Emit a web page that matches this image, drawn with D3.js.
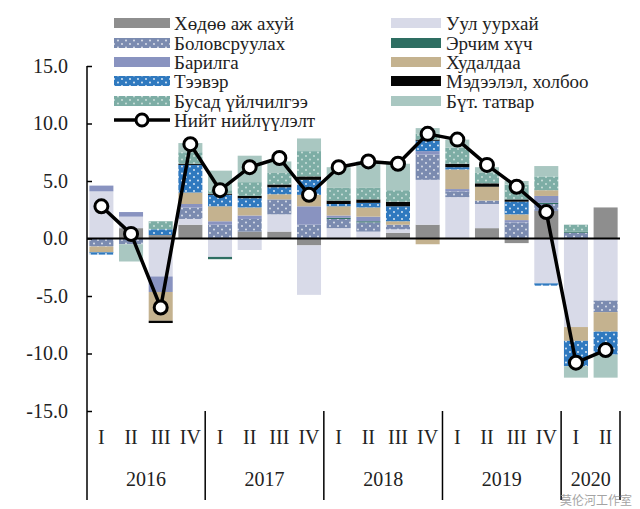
<!DOCTYPE html>
<html><head><meta charset="utf-8">
<script src="https://cdn.jsdelivr.net/npm/d3@7/dist/d3.min.js"></script>
<style>html,body{margin:0;padding:0;background:#fff;}svg{display:block;}</style>
</head><body><svg id="c" width="640" height="509"></svg>
<script>
const quarters = ["I","II","III","IV","I","II","III","IV","I","II","III","IV","I","II","III","IV","I","II"];
const years = ["2016","2017","2018","2019","2020"];
const yearSpan = [4,4,4,4,2];
const yTicks = [-15,-10,-5,0,5,10,15];

const agriculture  = [0, 0.9, 0.3, 1.2, 0, 0.6, 0.6, -0.6, 0, 0, 0.5, 1.2, 0, 0.9, -0.4, 2.4, 0, 2.7];
const mining       = [4.1, 1.0, -3.3, 0.5, -1.6, -1.0, 1.5, -4.3, 0.9, 0.6, 0.3, 3.9, 3.6, 2.1, 0, -3.9, -7.7, -5.4];
const manufacturing= [-0.7, -0.5, 0, 1.0, 1.2, 1.1, 1.3, 1.2, 0.8, 0.8, 0.4, 2.2, 0.5, 0.3, 1.4, 0.6, 0.5, -1.0];
const energy       = [0, 0, 0, 0, -0.2, 0, 0, 0, 0.1, 0.1, 0, 0, 0, 0, 0, 0.1, 0.1, 0];
const construction = [0.5, 0.4, -1.35, 0.3, 0.3, 0.3, 0, 1.6, 0.2, 0.4, 0, 0.3, 0.2, 0, 0.2, 0.6, 0, 0];
const trade        = [-0.5, 0, -2.5, 1.0, 1.3, 0.7, 0.45, 1.0, 0.8, 0.8, 0.3, -0.5, 1.7, 1.2, 0.5, 0.5, -1.2, -1.7];
const transport    = [-0.2, 0, 0.5, 2.4, 1.0, 0.8, 0.6, 1.3, 0.2, 0.4, 1.3, 0.9, 0.2, 0, 1.1, -0.2, -2.2, -2.0];
const ict          = [0, 0, -0.2, 0.1, 0.1, 0.2, 0.25, 0.3, 0.3, 0.3, 0.4, 0.1, 0.3, 0.3, 0.2, 0, 0, 0];
const otherServices= [0, 0, 0.7, 1.0, 0.3, 1.2, 1.0, 2.2, 1.1, 1.0, 1.0, 0.5, 1.4, 0.9, 1.3, 1.2, 0.6, 0];
const netTaxes     = [0, -1.5, 0, 0.8, 1.7, 2.3, 1.0, 1.1, 1.8, 2.3, 2.3, 0.5, 0.7, 0.5, 0.3, 0.9, -1.0, -2.0];
const totalSupply  = [2.8, 0.4, -6.0, 8.2, 4.2, 6.2, 7.0, 3.8, 6.2, 6.7, 6.5, 9.1, 8.6, 6.4, 4.5, 2.3, -10.8, -9.7];

const seriesNames = ["Хөдөө аж ахуй","Уул уурхай","Боловсруулах","Эрчим хүч","Барилга","Худалдаа","Тээвэр","Мэдээлэл, холбоо","Бусад үйлчилгээ","Бүт. татвар"];
const seriesValues = [agriculture, mining, manufacturing, energy, construction, trade, transport, ict, otherServices, netTaxes];
const seriesFill = ["#8e8e8e","#d8dae8","url(#pManuf)","#2e6e62","#8993c0","#c4b28f","url(#pTrans)","#050505","url(#pOther)","#a9c7c1"];
const lineName = "Нийт нийлүүлэлт";

const svg = d3.select("#c");
const defs = svg.append("defs");
function dotPattern(id, bg, dot, op){
  const p = defs.append("pattern").attr("id", id).attr("patternUnits","userSpaceOnUse").attr("width",8).attr("height",7);
  p.append("rect").attr("width",8).attr("height",7).attr("fill",bg);
  p.append("circle").attr("cx",2).attr("cy",2).attr("r",0.9).attr("fill",dot).attr("opacity",op);
  p.append("circle").attr("cx",6).attr("cy",5.5).attr("r",0.9).attr("fill",dot).attr("opacity",op);
}
dotPattern("pManuf","#7b8bb0","#ffffff",0.8);
dotPattern("pTrans","#2f79bf","#ffffff",0.9);
dotPattern("pOther","#7dada5","#e8f2ef",0.8);

const n = quarters.length;
const x = d3.scaleBand().domain(d3.range(n)).range([87, 620]).paddingInner(0.19).paddingOuter(0.08);
const y = d3.scaleLinear().domain([-15, 15]).range([411, 66]);

const table = d3.range(n).map(i => {
  const o = {i};
  seriesNames.forEach((k, j) => o[k] = seriesValues[j][i]);
  return o;
});
const stack = d3.stack().keys(seriesNames).offset(d3.stackOffsetDiverging);
const stacked = stack(table);

const bars = svg.append("g");
stacked.forEach((s, j) => {
  bars.append("g").attr("fill", seriesFill[j])
    .selectAll("rect").data(s).join("rect")
    .attr("x", d => x(d.data.i))
    .attr("width", x.bandwidth())
    .attr("y", d => y(Math.max(d[0], d[1])))
    .attr("height", d => Math.abs(y(d[0]) - y(d[1])));
});

// zero line
svg.append("line").attr("x1", 87).attr("x2", 620).attr("y1", y(0)).attr("y2", y(0))
  .attr("stroke", "#000").attr("stroke-width", 2);

// y axis
const yAxis = d3.axisLeft(y).tickValues(yTicks).tickSizeInner(-5).tickSizeOuter(0).tickPadding(19)
  .tickFormat(d => d.toFixed(1));
const ga = svg.append("g").attr("transform", "translate(87,0)").call(yAxis);
ga.select(".domain").remove();
ga.selectAll(".tick line").attr("stroke", "#000").attr("stroke-width", 1.5);
ga.selectAll(".tick text").attr("font-family", "Liberation Serif, Times New Roman, serif")
  .attr("font-size", 20).attr("fill", "#222");
svg.append("line").attr("x1", 87).attr("x2", 87).attr("y1", 66).attr("y2", 500)
  .attr("stroke", "#000").attr("stroke-width", 1.5);

// category axis
const step = x.step(), gap = step - x.bandwidth();
const serif = "Liberation Serif, Times New Roman, serif";
svg.append("g").selectAll("text").data(quarters).join("text")
  .attr("x", (d, i) => x(i) + x.bandwidth() / 2).attr("y", 444)
  .attr("text-anchor", "middle").attr("font-family", serif).attr("font-size", 20).attr("fill", "#222")
  .text(d => d);
let start = 0;
const sepX = [87];
years.forEach((yr, k) => {
  const a = start, b = start + yearSpan[k] - 1;
  const cx = (x(a) + x(b) + x.bandwidth()) / 2;
  svg.append("text").attr("x", cx).attr("y", 486).attr("text-anchor", "middle")
    .attr("font-family", serif).attr("font-size", 20).attr("fill", "#222").text(yr);
  start += yearSpan[k];
  sepX.push(start >= n ? 620 : x(start) - gap / 2);
});
svg.append("g").selectAll("line").data(sepX.slice(1)).join("line")
  .attr("x1", d => d).attr("x2", d => d).attr("y1", 411).attr("y2", 500)
  .attr("stroke", "#000").attr("stroke-width", 1.5);

// total line
const line = d3.line().x((d, i) => x(i) + x.bandwidth() / 2).y(d => y(d));
svg.append("path").datum(totalSupply).attr("d", line).attr("fill", "none")
  .attr("stroke", "#000").attr("stroke-width", 3.5).attr("stroke-linejoin", "round");
svg.append("g").selectAll("circle").data(totalSupply).join("circle")
  .attr("cx", (d, i) => x(i) + x.bandwidth() / 2).attr("cy", d => y(d)).attr("r", 6.5)
  .attr("fill", "#fff").attr("stroke", "#000").attr("stroke-width", 3);

// legend
const leftKeys = [0, 2, 4, 6, 8], rightKeys = [1, 3, 5, 7, 9];
const rowY = [23, 43, 62, 81, 101, 120];
const lg = svg.append("g");
function legendItem(j, sx, sw, tx, ry){
  lg.append("rect").attr("x", sx).attr("y", ry - 5).attr("width", sw).attr("height", 10).attr("fill", seriesFill[j]);
  lg.append("text").attr("x", tx).attr("y", ry).attr("dy", "0.35em").attr("font-family", serif)
    .attr("font-size", 19).attr("fill", "#222").text(seriesNames[j]);
}
leftKeys.forEach((j, r) => legendItem(j, 114, 56, 174, rowY[r]));
rightKeys.forEach((j, r) => legendItem(j, 391, 50, 446, rowY[r]));
lg.append("line").attr("x1", 114).attr("x2", 170).attr("y1", rowY[5]).attr("y2", rowY[5])
  .attr("stroke", "#000").attr("stroke-width", 3.5);
lg.append("circle").attr("cx", 142).attr("cy", rowY[5]).attr("r", 6).attr("fill", "#fff")
  .attr("stroke", "#000").attr("stroke-width", 3);
lg.append("text").attr("x", 174).attr("y", rowY[5]).attr("dy", "0.35em").attr("font-family", serif)
  .attr("font-size", 19).attr("fill", "#222").text(lineName);

// watermark (kept below the year labels so it does not cover them)
svg.append("text").attr("x", 632).attr("y", 505).attr("text-anchor", "end")
  .attr("font-family", "Noto Sans CJK SC, sans-serif").attr("font-size", 12)
  .attr("fill", "#9a9a9a").attr("opacity", 0.9).text("莫伦河工作室");
</script></body></html>
